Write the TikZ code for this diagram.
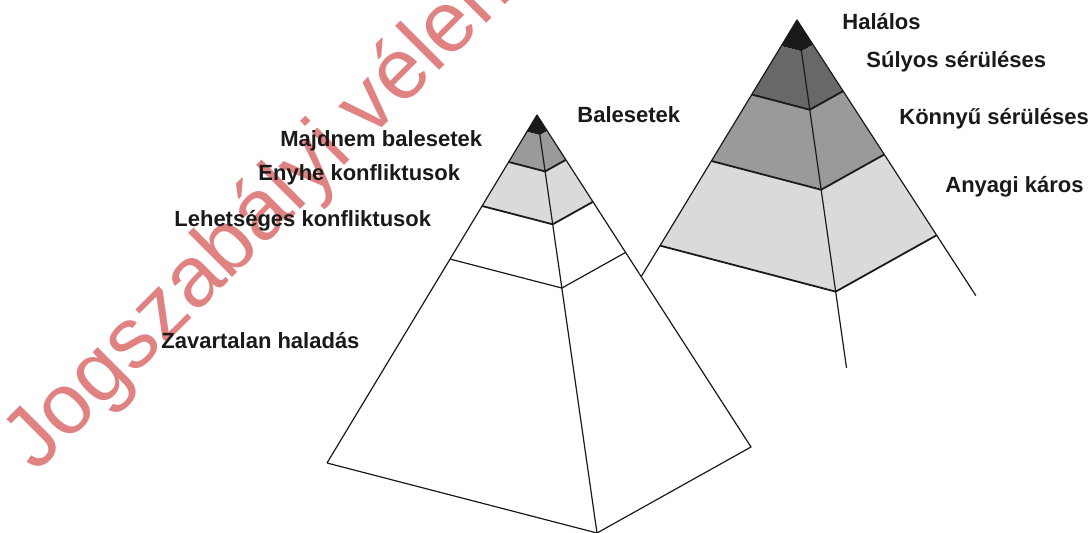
\documentclass[tikz,border=0pt]{standalone}
\usepackage{fontspec}
\setmainfont{Liberation Sans}
\usetikzlibrary{calc}

\definecolor{tipblack}{HTML}{1A1A1A}
\definecolor{darkband}{HTML}{686868}
\definecolor{midband}{HTML}{9A9A9A}
\definecolor{lightband}{HTML}{D9DBDA}
\definecolor{stampred}{HTML}{E08282}

\tikzset{
  lbl/.style={anchor=base west, inner sep=0pt, text=tipblack,
              font=\fontsize{11}{13}\selectfont\bfseries},
  side/.style={line width=0.6pt, tipblack},
  cut/.style={line width=0.9pt, tipblack},
  stamp/.style={anchor=base west, inner sep=0pt, text=stampred, rotate=45,
                font=\fontsize{43}{50}\selectfont}
}

\begin{document}
\begin{tikzpicture}[x=0.5pt, y=-0.5pt, line join=round]
    \useasboundingbox (0,0) rectangle (1092,533);
    \clip (0,0) rectangle (1092,533);

    % right pyramid, its base hidden behind the left one
    \coordinate (ra) at (797,20);
    \coordinate (rl) at (621.6,308.9);
    \coordinate (rc) at (846.5,367.8);
    \coordinate (rr) at (975.8,295.6);
    \foreach \from/\to/\col in {0/0.09/tipblack, 0.09/0.258/darkband,
                                0.258/0.488/midband, 0.488/0.781/lightband}
      \fill[\col] ($(ra)!\from!(rl)$) -- ($(ra)!\from!(rc)$) -- ($(ra)!\from!(rr)$)
                  -- ($(ra)!\to!(rr)$) -- ($(ra)!\to!(rc)$) -- ($(ra)!\to!(rl)$) -- cycle;
    \foreach \t in {0.258,0.488,0.781}
      \draw[cut] ($(ra)!\t!(rl)$) -- ($(ra)!\t!(rc)$) -- ($(ra)!\t!(rr)$);
    \draw[side] (rl) -- (ra) -- (rr) (ra) -- (rc);

    % left pyramid
    \coordinate (la) at (537,115);
    \coordinate (ll) at (327,463);
    \coordinate (lc) at (597,533);
    \coordinate (lr) at (751,447);
    \fill[white] (la) -- (ll) -- (lc) -- (lr) -- cycle;
    \foreach \from/\to/\col in {0/0.048/tipblack, 0.048/0.135/midband,
                                0.135/0.2615/lightband}
      \fill[\col] ($(la)!\from!(ll)$) -- ($(la)!\from!(lc)$) -- ($(la)!\from!(lr)$)
                  -- ($(la)!\to!(lr)$) -- ($(la)!\to!(lc)$) -- ($(la)!\to!(ll)$) -- cycle;
    \foreach \t in {0.135,0.2615}
      \draw[cut] ($(la)!\t!(ll)$) -- ($(la)!\t!(lc)$) -- ($(la)!\t!(lr)$);
    \draw[side] ($(la)!0.414!(ll)$) -- ($(la)!0.414!(lc)$) -- ($(la)!0.414!(lr)$);
    \draw[side] (ll) -- (la) -- (lr) -- (lc) -- (ll) (la) -- (lc);

    \node[stamp] (wm) at (36,474) {Jogszabályi vélemény};

    \node[lbl] (halalos) at (842,30) {Halálos};
    \node[lbl] (sulyos) at (866,68) {Súlyos sérüléses};
    \node[lbl] (konnyu) at (899,125) {Könnyű sérüléses};
    \node[lbl] (anyagi) at (945,193) {Anyagi káros};
    \node[lbl] (baleset) at (577,123) {Balesetek};
    \node[lbl] (majdnem) at (280,147) {Majdnem balesetek};
    \node[lbl] (enyhe) at (258,181) {Enyhe konfliktusok};
    \node[lbl] (lehet) at (174,227) {Lehetséges konfliktusok};
    \node[lbl] (zavar) at (161,349) {Zavartalan haladás};
\end{tikzpicture}
\end{document}
